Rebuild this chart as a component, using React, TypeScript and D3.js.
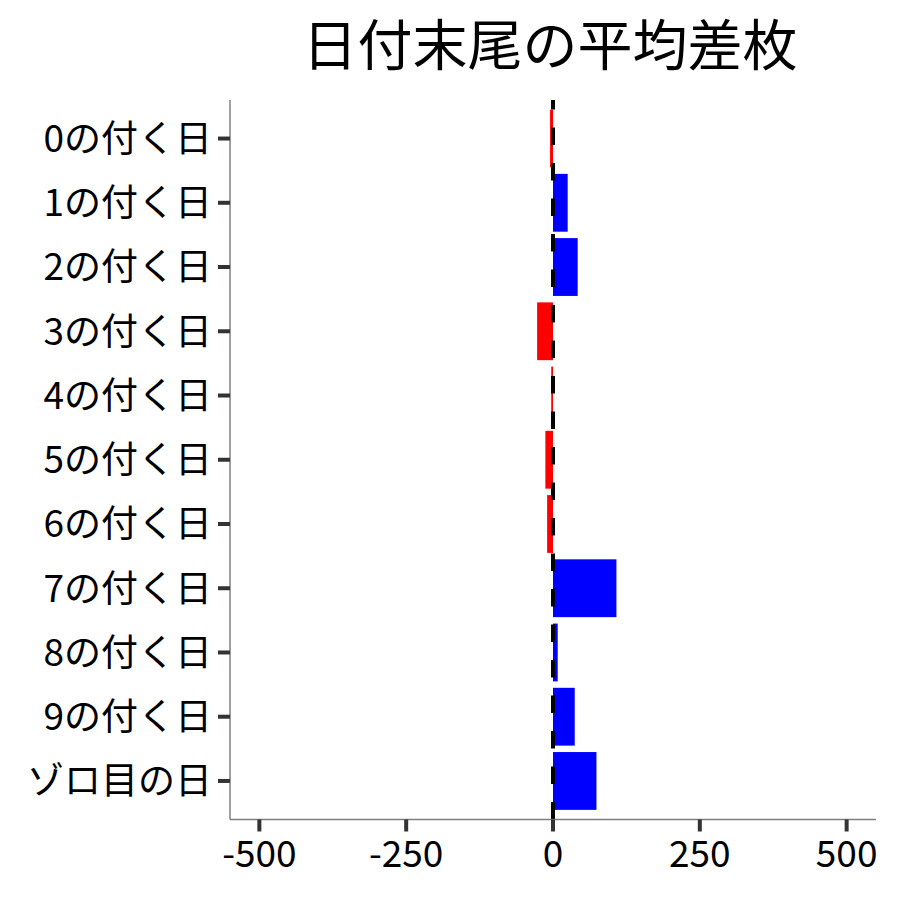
import React from "react";
import * as d3 from "d3";

const categories = ["0の付く日", "1の付く日", "2の付く日", "3の付く日", "4の付く日", "5の付く日", "6の付く日", "7の付く日", "8の付く日", "9の付く日", "ゾロ目の日"];
const values = [-5, 25, 42, -27, -3, -13, -10, 108, 8, 37, 74];
const xTicks = [-500, -250, 0, 250, 500];
const titleText = "日付末尾の平均差枚";

export default function App() {
  const W = 900, H = 900;
  const left = 230, right = 876, top = 100, bottom = 819.5;
  const font = "'Noto Sans CJK JP', 'Noto Sans', sans-serif";

  const x = d3.scaleLinear().domain([-550, 550]).range([left, right]);
  const n = categories.length;
  const step = (bottom - top) / (n - 1 + 1.2);
  const y = (i: number) => top + step * (0.6 + i);
  const bh = step * 0.9;

  return (
    <svg width={W} height={H} style={{ position: "absolute", left: 0, top: 0 }}>
      <rect width={W} height={H} fill="white" />
      <text x={550} y={65} textAnchor="middle" fontFamily={font} fontSize={55} fill="black">{titleText}</text>
      {values.map((v, i) => (
        <rect key={i}
          x={Math.min(x(0), x(v))}
          y={y(i) - bh / 2}
          width={Math.abs(x(v) - x(0))}
          height={bh}
          fill={v < 0 ? "#ff0000" : "#0000ff"} />
      ))}
      <line x1={x(0)} x2={x(0)} y1={bottom} y2={top} stroke="black" strokeWidth={4} strokeDasharray="17.5 18" />
      <line x1={left} x2={left} y1={top} y2={bottom} stroke="#7f7f7f" strokeWidth={1.5} />
      <line x1={left} x2={right} y1={bottom} y2={bottom} stroke="#7f7f7f" strokeWidth={1.5} />
      {categories.map((c, i) => (
        <g key={c}>
          <line x1={left - 12} x2={left} y1={y(i)} y2={y(i)} stroke="#333333" strokeWidth={4} />
          <text x={212} y={y(i)} dy="0.36em" textAnchor="end" fontFamily={font} fontSize={37} fill="black">{c}</text>
        </g>
      ))}
      {xTicks.map((t) => (
        <g key={t}>
          <line x1={x(t)} x2={x(t)} y1={bottom} y2={bottom + 12} stroke="#333333" strokeWidth={4} />
          <text x={x(t)} y={867} textAnchor="middle" fontFamily={font} fontSize={37} fill="black">{t}</text>
        </g>
      ))}
    </svg>
  );
}
